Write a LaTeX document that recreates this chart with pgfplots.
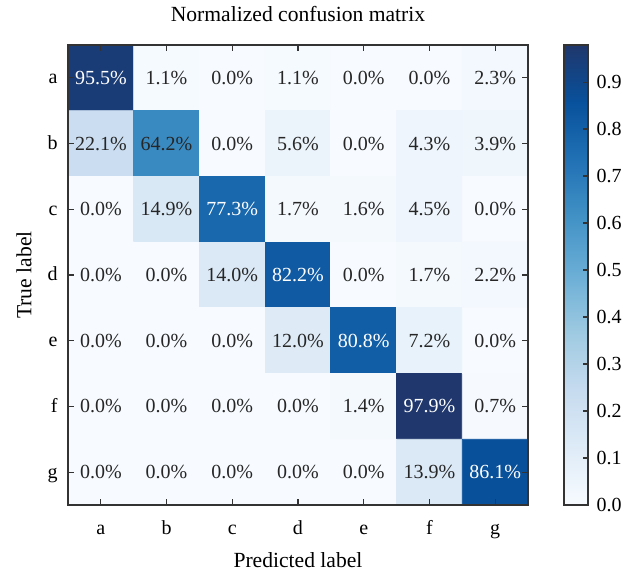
\documentclass[border=0pt]{standalone}
\usepackage{fontspec}
\setmainfont{Liberation Serif}
\usepackage{pgfplots}
\pgfplotsset{compat=1.18}
\definecolor{axgray}{HTML}{333333}
\begin{document}
\fontsize{10pt}{12pt}\selectfont
\begin{tikzpicture}
\begin{axis}[
  scale only axis,
  axis on top,
  width=230pt, height=230pt,
  xmin=-0.5, xmax=6.5, ymin=-0.5, ymax=6.5,
  y dir=reverse,
  enlargelimits=false,
  axis line style={axgray, line width=0.65pt},
  tick style={axgray, line width=0.6pt},
  major tick length=3pt,
  tick align=inside,
  xtick pos=both, ytick pos=both,
  xticklabel pos=bottom, yticklabel pos=left,
  xtick={0,...,6}, ytick={0,...,6},
  xticklabels={a,b,c,d,e,f,g},
  yticklabels={a,b,c,d,e,f,g},
  ticklabel style={font=\fontsize{10pt}{12pt}\selectfont},
  xticklabel style={anchor=base, yshift=-15pt},
  yticklabel style={anchor=base east, yshift=-3pt, xshift=-1.7pt},
  every axis title/.style={at={(axis description cs:0.5,1)}, yshift=11.5pt, anchor=base, font=\fontsize{10.8pt}{13pt}\selectfont},
  title={Normalized confusion matrix},
  every axis x label/.style={at={(axis description cs:0.5,0)}, yshift=-31.5pt, anchor=base, font=\fontsize{10.8pt}{13pt}\selectfont},
  every axis y label/.style={at={(axis description cs:0,0.5)}, xshift=-22pt, rotate=90, anchor=center, font=\fontsize{10.8pt}{13pt}\selectfont},
  xlabel={Predicted label},
  ylabel={True label},
  colormap={blues}{
    rgb255=(247,251,255)
    rgb255=(222,235,247)
    rgb255=(198,219,239)
    rgb255=(158,202,225)
    rgb255=(107,174,214)
    rgb255=(66,146,198)
    rgb255=(33,113,181)
    rgb255=(8,81,156)
    rgb255=(31,55,108)
  },
  point meta min=0, point meta max=97.9,
  colorbar,
  colorbar style={
    at={(parent axis.north east)}, anchor=north west, xshift=9.5pt,
    width=12pt,
    axis line style={axgray, line width=0.65pt},
    ytick={0,10,...,90},
    yticklabels={0.0,0.1,0.2,0.3,0.4,0.5,0.6,0.7,0.8,0.9},
    ytick pos=right, yticklabel pos=right,
    tick align=inside,
    major tick length=2.5pt,
    tick style={axgray, line width=0.6pt},
    yticklabel style={anchor=west, xshift=0.7pt, font=\fontsize{10pt}{12pt}\selectfont},
  },
  nodes near coords style={anchor=center, font=\fontsize{10pt}{12pt}\selectfont},
]
\addplot[matrix plot*, mesh/cols=7, point meta=explicit] table[meta=c] {
x y c
0 0 95.5
1 0 1.1
2 0 0.0
3 0 1.1
4 0 0.0
5 0 0.0
6 0 2.3
0 1 22.1
1 1 64.2
2 1 0.0
3 1 5.6
4 1 0.0
5 1 4.3
6 1 3.9
0 2 0.0
1 2 14.9
2 2 77.3
3 2 1.7
4 2 1.6
5 2 4.5
6 2 0.0
0 3 0.0
1 3 0.0
2 3 14.0
3 3 82.2
4 3 0.0
5 3 1.7
6 3 2.2
0 4 0.0
1 4 0.0
2 4 0.0
3 4 12.0
4 4 80.8
5 4 7.2
6 4 0.0
0 5 0.0
1 5 0.0
2 5 0.0
3 5 0.0
4 5 1.4
5 5 97.9
6 5 0.7
0 6 0.0
1 6 0.0
2 6 0.0
3 6 0.0
4 6 0.0
5 6 13.9
6 6 86.1
};
% dark labels
\addplot[draw=none, mark=none, point meta=explicit symbolic,
  nodes near coords, nodes near coords style={text=black!85}] coordinates {
(1,0)[1.1\%] (2,0)[0.0\%] (3,0)[1.1\%] (4,0)[0.0\%] (5,0)[0.0\%] (6,0)[2.3\%]
(0,1)[22.1\%] (1,1)[64.2\%] (2,1)[0.0\%] (3,1)[5.6\%] (4,1)[0.0\%] (5,1)[4.3\%] (6,1)[3.9\%]
(0,2)[0.0\%] (1,2)[14.9\%] (3,2)[1.7\%] (4,2)[1.6\%] (5,2)[4.5\%] (6,2)[0.0\%]
(0,3)[0.0\%] (1,3)[0.0\%] (2,3)[14.0\%] (4,3)[0.0\%] (5,3)[1.7\%] (6,3)[2.2\%]
(0,4)[0.0\%] (1,4)[0.0\%] (2,4)[0.0\%] (3,4)[12.0\%] (5,4)[7.2\%] (6,4)[0.0\%]
(0,5)[0.0\%] (1,5)[0.0\%] (2,5)[0.0\%] (3,5)[0.0\%] (4,5)[1.4\%] (6,5)[0.7\%]
(0,6)[0.0\%] (1,6)[0.0\%] (2,6)[0.0\%] (3,6)[0.0\%] (4,6)[0.0\%] (5,6)[13.9\%]
};
% light labels
\addplot[draw=none, mark=none, point meta=explicit symbolic,
  nodes near coords, nodes near coords style={text=white}] coordinates {
(0,0)[95.5\%] (2,2)[77.3\%] (3,3)[82.2\%] (4,4)[80.8\%] (5,5)[97.9\%] (6,6)[86.1\%]
};
\end{axis}
\pgfresetboundingbox
\path (-34pt,-35.5pt) rectangle (277pt,252.5pt);
\end{tikzpicture}
\end{document}
